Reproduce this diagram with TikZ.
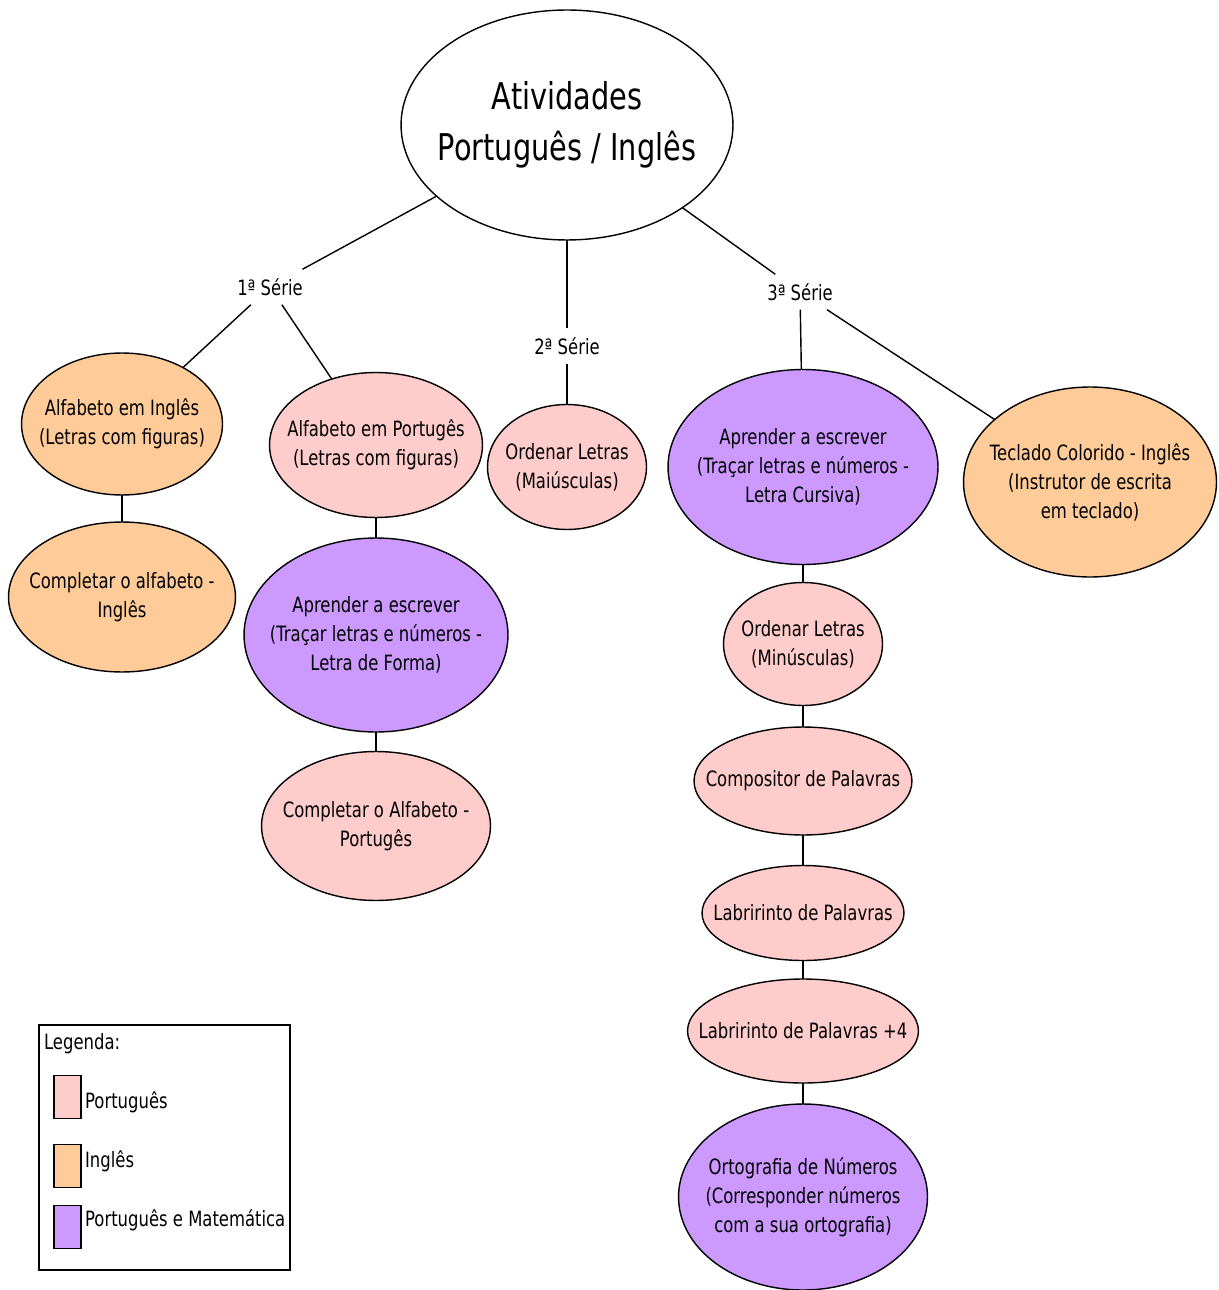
\documentclass[tikz,border=0pt]{standalone}
\usepackage{fontspec}
\setmainfont{DejaVu Sans}[FakeStretch=0.78]
\usepackage{tikz}
\usetikzlibrary{shapes.geometric}
\usetikzlibrary{math}

\definecolor{corPor}{HTML}{FFCCCC}
\definecolor{corIng}{HTML}{FFCC99}
\definecolor{corMat}{HTML}{CC99FF}

\tikzset{
    bubble/.style={ellipse, draw, line width=0.8pt, align=center, inner sep=-40pt,
        outer sep=0pt, font=\fontsize{12}{16.5}\selectfont},
    serie/.style={inner sep=5pt, font=\fontsize{12}{14}\selectfont},
    swatch/.style={draw, line width=0.8pt, minimum width=0.54cm, minimum height=0.86cm, inner sep=0pt},
    legtext/.style={anchor=west, inner sep=1pt, font=\fontsize{12}{14}\selectfont},
    link/.style={line width=0.8pt},
}

\begin{document}
\begin{tikzpicture}[x=0.02cm, y=-0.02cm]

\useasboundingbox (0,0) rectangle (1219,1290);

% Central node
\node[bubble, fill=white, minimum width=6.64cm, minimum height=4.6cm,
    font=\fontsize{21}{29}\selectfont] (root) at (567,125) {Atividades\\Português / Inglês};

% Series labels
\node[serie] (s1) at (270,287) {1ª Série};
\node[serie] (s2) at (567,346) {2ª Série};
\node[serie] (s3) at (800,292) {3ª Série};

% 1a serie
\node[bubble, fill=corIng, minimum width=4.02cm, minimum height=2.84cm] (alfIng) at (122,424)
    {Alfabeto em Inglês\\(Letras com figuras)};
\node[bubble, fill=corIng, minimum width=4.54cm, minimum height=3.0cm] (compIng) at (122,597)
    {Completar o alfabeto -\\Inglês};
\node[bubble, fill=corPor, minimum width=4.26cm, minimum height=2.9cm] (alfPor) at (376,445)
    {Alfabeto em Portugês\\(Letras com figuras)};
\node[bubble, fill=corMat, minimum width=5.28cm, minimum height=3.88cm] (aprForma) at (376,635)
    {Aprender a escrever\\(Traçar letras e números -\\Letra de Forma)};
\node[bubble, fill=corPor, minimum width=4.58cm, minimum height=2.98cm] (compPor) at (376,826)
    {Completar o Alfabeto -\\Portugês};

% 2a serie
\node[bubble, fill=corPor, minimum width=3.18cm, minimum height=2.5cm] (ordMai) at (567,467)
    {Ordenar Letras\\(Maiúsculas)};

% 3a serie
\node[bubble, fill=corMat, minimum width=5.4cm, minimum height=3.9cm] (aprCurs) at (803,467)
    {Aprender a escrever\\(Traçar letras e números -\\Letra Cursiva)};
\node[bubble, fill=corIng, minimum width=5.06cm, minimum height=3.8cm] (teclado) at (1090,482)
    {Teclado Colorido - Inglês\\(Instrutor de escrita\\em teclado)};
\node[bubble, fill=corPor, minimum width=3.18cm, minimum height=2.46cm] (ordMin) at (803,644)
    {Ordenar Letras\\(Minúsculas)};
\node[bubble, fill=corPor, minimum width=4.36cm, minimum height=2.16cm] (compositor) at (803,781)
    {Compositor de Palavras};
\node[bubble, fill=corPor, minimum width=4.04cm, minimum height=1.9cm] (labir) at (803,913)
    {Labririnto de Palavras};
\node[bubble, fill=corPor, minimum width=4.62cm, minimum height=2.08cm] (labirQ) at (803,1031)
    {Labririnto de Palavras +4};
\node[bubble, fill=corMat, minimum width=4.98cm, minimum height=3.72cm] (orto) at (803,1197)
    {Ortografia de Números\\(Corresponder números\\com a sua ortografia)};

% Draws the connectors
\foreach \a/\b in {root/s1, root/s2, root/s3, s1/alfIng, s1/alfPor, s2/ordMai,
    s3/aprCurs, s3/teclado, alfIng/compIng, alfPor/aprForma, aprForma/compPor,
    aprCurs/ordMin, ordMin/compositor, compositor/labir, labir/labirQ, labirQ/orto} {
    \draw[link] (\a) -- (\b);
}

% Legend
\draw[line width=0.8pt] (39,1025) rectangle (290,1270);
\node[legtext] (legTitle) at (42,1044) {Legenda:};
\node[swatch, fill=corPor] (legPor) at (67.5,1097) {};
\node[swatch, fill=corIng] (legIng) at (67.5,1166) {};
\node[swatch, fill=corMat] (legMat) at (67.5,1227) {};
\node[legtext] at (83,1102) {Português};
\node[legtext] at (83,1161) {Inglês};
\node[legtext] at (83,1220) {Português e Matemática};

\end{tikzpicture}
\end{document}
